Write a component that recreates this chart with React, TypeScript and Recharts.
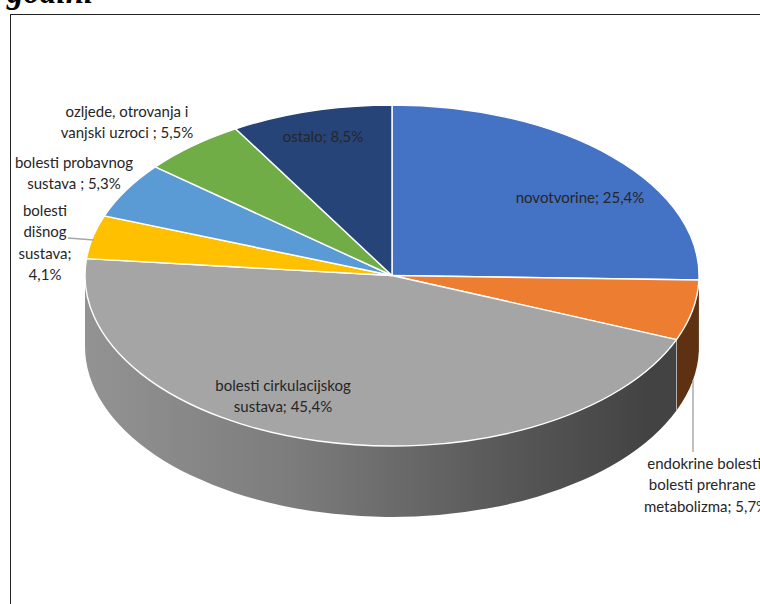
import { Pie, PieChart } from 'recharts';

const categories = [
  'novotvorine',
  'endokrine bolesti, bolesti prehrane i metabolizma',
  'bolesti cirkulacijskog sustava',
  'bolesti dišnog sustava',
  'bolesti probavnog sustava',
  'ozljede, otrovanja i vanjski uzroci',
  'ostalo',
];
const shares = [25.4, 5.7, 45.4, 4.1, 5.3, 5.5, 8.5];
const topColors = ['#4472c4', '#ed7d31', '#a5a5a5', '#ffc000', '#5b9bd5', '#70ad47', '#264478'];
const sideColors = ['#2a4578', '#5f3113', 'url(#graySide)', '#9c7500', '#375f83', '#44692b', '#162a4a'];
const labelLines = [
  ['novotvorine; 25,4%'],
  ['endokrine bolesti,', 'bolesti prehrane i', 'metabolizma; 5,7%'],
  ['bolesti cirkulacijskog', 'sustava; 45,4%'],
  ['bolesti', 'dišnog', 'sustava;', '4,1%'],
  ['bolesti probavnog', 'sustava ; 5,3%'],
  ['ozljede, otrovanja i', 'vanjski uzroci ; 5,5%'],
  ['ostalo; 8,5%'],
];

// where each label sits: centre x, first baseline
const labelAt = [
  [580, 203],
  [706, 469],
  [283, 391],
  [45, 216],
  [74, 168],
  [127, 117],
  [323, 142],
];

const tableData = categories.map((name, i) => ({
  name,
  value: shares[i],
  top: topColors[i],
  side: sideColors[i],
  lines: labelLines[i],
  at: labelAt[i],
}));

const CX = 392;
const CY = 275.5;
const RX = 307;
const RY = 170.5;
const DEPTH = 71;
const LINE_H = 21.3;

const squash = RY / RX;
const pt = (cx: number, cy: number, r: number, deg: number) => {
  const a = (deg * Math.PI) / 180;
  return [cx + r * Math.cos(a), cy - r * squash * Math.sin(a)];
};

// flat top of a slice, the library's circle squashed into an ellipse
const TopSlice = (p: any) => {
  const r = p.outerRadius;
  const [x1, y1] = pt(p.cx, p.cy, r, p.startAngle);
  const [x2, y2] = pt(p.cx, p.cy, r, p.endAngle);
  const large = Math.abs(p.startAngle - p.endAngle) > 180 ? 1 : 0;
  const d = `M${p.cx},${p.cy}L${x1},${y1}A${r},${r * squash} 0 ${large} 1 ${x2},${y2}Z`;
  return <path d={d} fill={p.top} stroke="#fff" strokeWidth={1.4} strokeLinejoin="round" />;
};

// outer wall, only the part of the rim that faces the viewer
const SideSlice = (p: any) => {
  const r = p.outerRadius;
  const from = Math.min(p.startAngle, 0);
  const to = Math.max(p.endAngle, -180);
  if (from <= to) return <g />;
  const [x1, y1] = pt(p.cx, p.cy, r, from);
  const [x2, y2] = pt(p.cx, p.cy, r, to);
  const d =
    `M${x1},${y1}A${r},${r * squash} 0 0 1 ${x2},${y2}` +
    `L${x2},${y2 + DEPTH}A${r},${r * squash} 0 0 0 ${x1},${y1 + DEPTH}Z`;
  return (
    <g>
      <path d={d} fill={p.side} />
      {from < -5 && <line x1={x1} y1={y1} x2={x1} y2={y1 + DEPTH} stroke="#b0b0b0" strokeWidth={1} />}
    </g>
  );
};

const SliceLabel = (p: any) => {
  const [x, y] = p.at;
  return (
    <g>
      {p.index === 1 && <line x1={693} y1={380} x2={693} y2={452} stroke="#a6a6a6" strokeWidth={1.4} />}
      {p.index === 3 && <line x1={68} y1={238} x2={94} y2={240} stroke="#a6a6a6" strokeWidth={1.4} />}
      {p.lines.map((t: string, i: number) => (
        <text
          key={t}
          x={x}
          y={y + i * LINE_H}
          textAnchor="middle"
          fontFamily="Lato"
          fontSize={15}
          fill="#262626"
        >
          {t}
        </text>
      ))}
    </g>
  );
};

document.body.style.margin = '0';

export default function App() {
  return (
    <div style={{ position: 'relative', width: 760, height: 604, overflow: 'hidden', background: '#fff' }}>
      <div
        style={{
          position: 'absolute',
          left: 10,
          top: 14,
          width: 760,
          height: 600,
          borderLeft: '1.5px solid #222',
          borderTop: '1.5px solid #222',
        }}
      />
      <div
        style={{
          position: 'absolute',
          left: 7,
          top: -26,
          fontFamily: 'Liberation Serif',
          fontWeight: 'bold',
          fontStyle: 'italic',
          fontSize: 33,
          lineHeight: '36px',
        }}
      >
        godini
      </div>
      <div style={{ position: 'absolute', left: 0, top: 0 }}>
        <PieChart width={760} height={604} margin={{ top: 0, right: 0, bottom: 0, left: 0 }}>
          <defs>
            <linearGradient id="graySide" gradientUnits="userSpaceOnUse" x1={85} y1={0} x2={677} y2={0}>
              <stop offset="0" stopColor="#939393" />
              <stop offset="0.35" stopColor="#7c7c7c" />
              <stop offset="0.7" stopColor="#595959" />
              <stop offset="0.95" stopColor="#434343" />
              <stop offset="1" stopColor="#434343" />
            </linearGradient>
          </defs>
          <Pie
            data={tableData}
            dataKey="value"
            nameKey="name"
            cx={CX}
            cy={CY}
            outerRadius={RX}
            startAngle={90}
            endAngle={-270}
            stroke="none"
            shape={SideSlice}
            isAnimationActive={false}
          />
          <Pie
            data={tableData}
            dataKey="value"
            nameKey="name"
            cx={CX}
            cy={CY}
            outerRadius={RX}
            startAngle={90}
            endAngle={-270}
            shape={TopSlice}
            label={SliceLabel}
            labelLine={false}
            isAnimationActive={false}
          />
        </PieChart>
      </div>
    </div>
  );
}
